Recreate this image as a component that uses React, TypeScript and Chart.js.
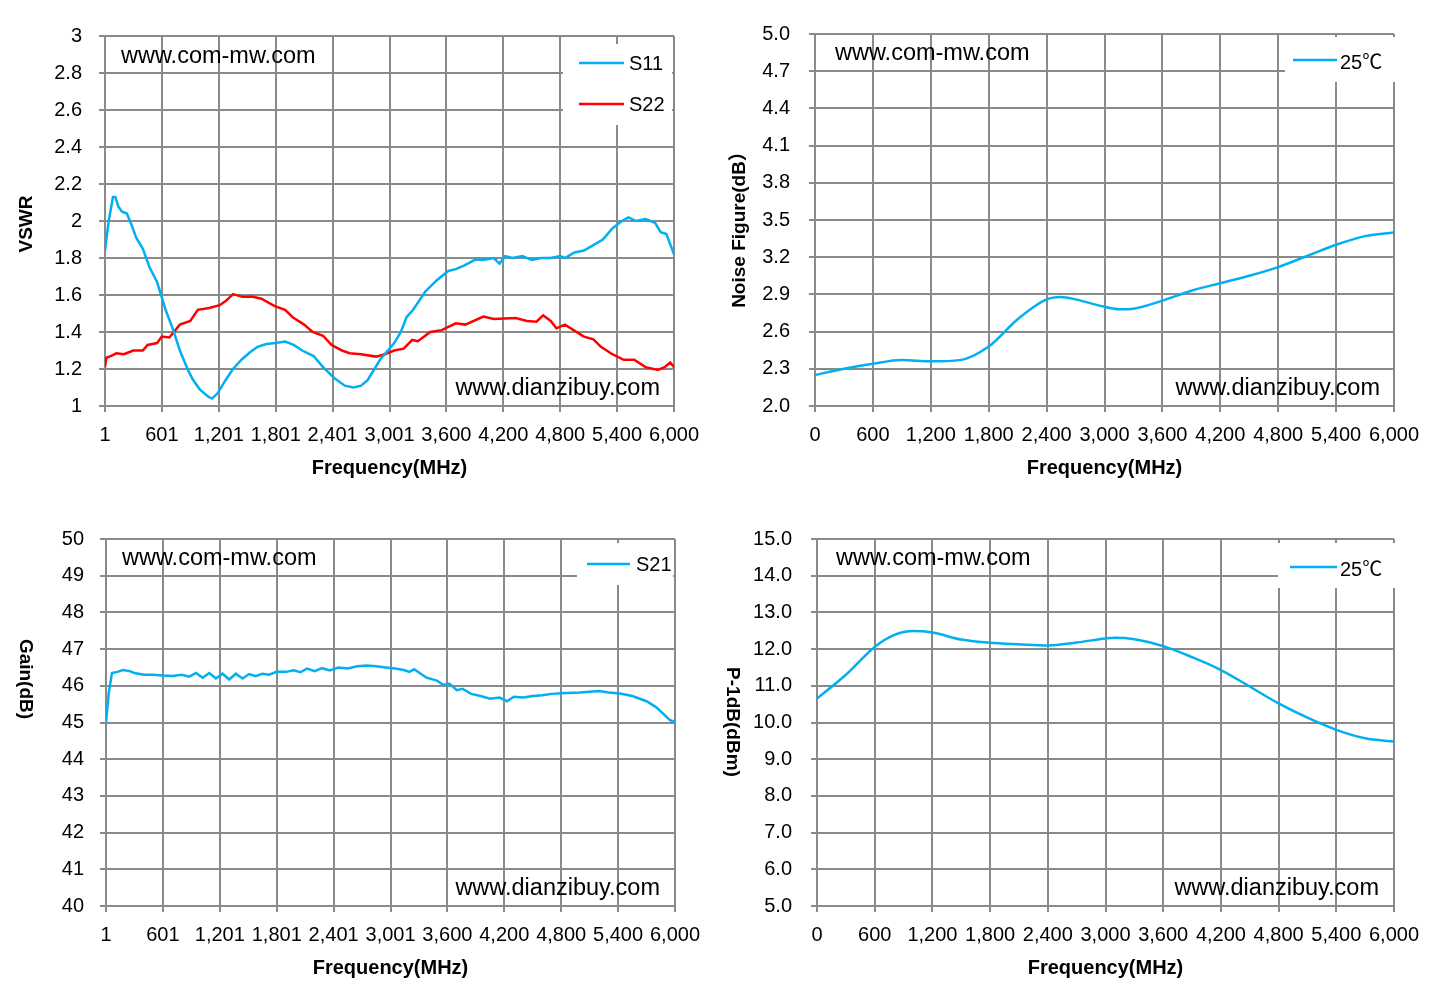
import React, { useEffect, useRef } from 'react';
import { Chart, registerables } from 'chart.js';

Chart.register(...registerables);

const FONT = '"Liberation Sans", Arial, sans-serif';
const LEGEND_FONT = '"Liberation Sans", "Noto Sans CJK SC", sans-serif';
const BLUE = '#00B0F0';
const RED = '#FF0000';
const GRID = '#8a8a8a';

// ---------- VSWR (S11 / S22) ----------
const vswrXTicks = [1, 601, 1201, 1801, 2401, 3001, 3600, 4200, 4800, 5400, 6000];
const vswrYTicks = [1, 1.2, 1.4, 1.6, 1.8, 2, 2.2, 2.4, 2.6, 2.8, 3];

const s11Freq = [1, 40, 85, 110, 140, 180, 232, 280, 330, 400, 470, 550, 640, 720, 790, 880, 930, 1000, 1090, 1130, 1190, 1260, 1350, 1440, 1530, 1610, 1700, 1800, 1900, 1990, 2080, 2200, 2300, 2420, 2530, 2620, 2700, 2770, 2900, 3050, 3120, 3180, 3250, 3380, 3500, 3620, 3700, 3790, 3900, 4000, 4100, 4160, 4220, 4300, 4400, 4500, 4600, 4700, 4800, 4850, 4950, 5050, 5150, 5250, 5350, 5450, 5520, 5600, 5700, 5800, 5860, 5920, 6000];
const s11Vals = [1.84, 2.0, 2.13, 2.13, 2.08, 2.05, 2.04, 1.98, 1.91, 1.85, 1.75, 1.67, 1.52, 1.41, 1.30, 1.19, 1.14, 1.09, 1.05, 1.04, 1.07, 1.13, 1.2, 1.25, 1.29, 1.32, 1.335, 1.34, 1.348, 1.33, 1.30, 1.27, 1.21, 1.15, 1.11, 1.10, 1.11, 1.14, 1.25, 1.34, 1.4, 1.48, 1.52, 1.62, 1.68, 1.73, 1.74, 1.76, 1.79, 1.79, 1.80, 1.77, 1.81, 1.80, 1.81, 1.79, 1.80, 1.80, 1.81, 1.80, 1.83, 1.84, 1.87, 1.90, 1.96, 2.00, 2.02, 2.00, 2.01, 1.99, 1.94, 1.93, 1.82];

const s22Freq = [1, 15, 60, 120, 200, 300, 400, 450, 550, 600, 680, 790, 900, 980, 1100, 1210, 1280, 1350, 1450, 1560, 1650, 1790, 1900, 1980, 2100, 2190, 2300, 2390, 2500, 2580, 2700, 2860, 2950, 3050, 3150, 3240, 3300, 3430, 3550, 3700, 3800, 3990, 4100, 4330, 4450, 4550, 4620, 4700, 4760, 4850, 5050, 5150, 5230, 5350, 5470, 5580, 5700, 5830, 5900, 5960, 6000];
const s22Vals = [1.21, 1.26, 1.27, 1.285, 1.28, 1.30, 1.30, 1.33, 1.34, 1.375, 1.37, 1.44, 1.46, 1.52, 1.53, 1.545, 1.57, 1.605, 1.59, 1.59, 1.58, 1.54, 1.52, 1.48, 1.44, 1.40, 1.38, 1.33, 1.30, 1.285, 1.28, 1.267, 1.28, 1.30, 1.31, 1.357, 1.35, 1.40, 1.41, 1.447, 1.44, 1.483, 1.47, 1.475, 1.46, 1.456, 1.49, 1.46, 1.42, 1.44, 1.375, 1.36, 1.32, 1.28, 1.25, 1.25, 1.21, 1.195, 1.21, 1.235, 1.21];

// ---------- Noise Figure ----------
const nfXTicks = [0, 600, 1200, 1800, 2400, 3000, 3600, 4200, 4800, 5400, 6000];
const nfYTicks = [2.0, 2.3, 2.6, 2.9, 3.2, 3.5, 3.8, 4.1, 4.4, 4.7, 5.0];
const nfFreq = [0, 300, 600, 900, 1200, 1500, 1800, 2100, 2400, 2550, 2700, 3000, 3150, 3300, 3600, 3900, 4200, 4500, 4800, 5100, 5400, 5700, 6000];
const nfVals = [2.25, 2.30, 2.34, 2.37, 2.36, 2.37, 2.48, 2.70, 2.86, 2.88, 2.86, 2.80, 2.78, 2.785, 2.85, 2.93, 2.99, 3.05, 3.12, 3.21, 3.30, 3.37, 3.40];

// ---------- Gain (S21) ----------
const gainXTicks = [1, 601, 1201, 1801, 2401, 3001, 3600, 4200, 4800, 5400, 6000];
const gainYTicks = [40, 41, 42, 43, 44, 45, 46, 47, 48, 49, 50];
const s21Freq = [1, 30, 64, 120, 180, 250, 300, 400, 500, 600, 700, 800, 880, 950, 1020, 1090, 1160, 1230, 1300, 1370, 1440, 1510, 1580, 1650, 1720, 1800, 1900, 1980, 2050, 2120, 2200, 2280, 2360, 2450, 2550, 2650, 2750, 2850, 2950, 3050, 3140, 3200, 3250, 3380, 3490, 3560, 3620, 3700, 3760, 3850, 3950, 4050, 4150, 4230, 4300, 4400, 4500, 4600, 4700, 4800, 5000, 5200, 5300, 5420, 5550, 5700, 5800, 5900, 5950, 6000];
const s21Vals = [45.0, 45.8, 46.35, 46.38, 46.43, 46.40, 46.35, 46.30, 46.30, 46.28, 46.27, 46.30, 46.25, 46.35, 46.22, 46.35, 46.20, 46.33, 46.17, 46.33, 46.20, 46.32, 46.26, 46.33, 46.30, 46.38, 46.38, 46.42, 46.37, 46.47, 46.40, 46.48, 46.42, 46.50, 46.47, 46.53, 46.55, 46.53, 46.50, 46.47, 46.43, 46.38, 46.45, 46.22, 46.14, 46.02, 46.06, 45.88, 45.92, 45.78, 45.72, 45.65, 45.68, 45.58, 45.70, 45.68, 45.72, 45.74, 45.78, 45.80, 45.82, 45.86, 45.82, 45.79, 45.72, 45.58, 45.42, 45.18, 45.06, 45.02];

// ---------- P-1dB ----------
const p1XTicks = [0, 600, 1200, 1800, 2400, 3000, 3600, 4200, 4800, 5400, 6000];
const p1YTicks = [5, 6, 7, 8, 9, 10, 11, 12, 13, 14, 15];
const p1Freq = [0, 300, 600, 800, 1000, 1200, 1500, 1800, 2100, 2400, 2700, 3000, 3100, 3300, 3600, 3900, 4200, 4500, 4800, 5100, 5400, 5700, 6000];
const p1Vals = [10.65, 11.3, 12.06, 12.38, 12.49, 12.45, 12.26, 12.17, 12.13, 12.10, 12.18, 12.29, 12.31, 12.27, 12.08, 11.78, 11.43, 10.98, 10.52, 10.13, 9.80, 9.57, 9.48];

type Series = { label: string; xs: number[]; ys: number[]; color: string; smooth: boolean };
type LegendItem = { label: string; color: string; x1: number; x2: number; y: number; tx: number; ty: number };
type Spec = {
  left: number; top: number; width: number; height: number;
  area: { left: number; top: number; right: number; bottom: number };
  xMin: number; xMax: number; xTicks: number[];
  yMin: number; yMax: number; yTicks: number[]; yFmt: (v: number) => string; yPad: number;
  series: Series[];
  yTitle: string; yTitleX: number; yTitleY: number; yTitleRot: number;
  box: { x1: number; y1: number; x2: number; y2: number };
  legend: LegendItem[];
  wm1: { dx: number; dy: number }; wm2: { dx: number; dy: number };
};

const fmtComma = (v: number) => Number(v).toLocaleString('en-US');

function makeDecor(spec: Spec) {
  return {
    id: 'decor',
    beforeDatasetsDraw(chart: any) {
      const ctx = chart.ctx as CanvasRenderingContext2D;
      const a = chart.chartArea;
      ctx.save();
      ctx.fillStyle = '#000';
      ctx.font = `23.5px ${FONT}`;
      ctx.textBaseline = 'alphabetic';
      ctx.textAlign = 'left';
      ctx.fillText('www.com-mw.com', a.left + spec.wm1.dx, a.top + spec.wm1.dy);
      ctx.textAlign = 'right';
      ctx.fillText('www.dianzibuy.com', a.right - spec.wm2.dx, a.bottom - spec.wm2.dy);
      ctx.restore();
    },
    afterDraw(chart: any) {
      const ctx = chart.ctx as CanvasRenderingContext2D;
      const a = chart.chartArea;
      ctx.save();
      const b = spec.box;
      ctx.fillStyle = '#fff';
      ctx.fillRect(b.x1, b.y1, b.x2 - b.x1, b.y2 - b.y1);
      ctx.font = `20px ${LEGEND_FONT}`;
      ctx.textBaseline = 'middle';
      ctx.textAlign = 'left';
      spec.legend.forEach((it) => {
        ctx.strokeStyle = it.color;
        ctx.lineWidth = 2.5;
        ctx.beginPath();
        ctx.moveTo(it.x1, it.y);
        ctx.lineTo(it.x2, it.y);
        ctx.stroke();
        ctx.fillStyle = '#000';
        ctx.fillText(it.label, it.tx, it.ty);
      });
      ctx.font = `bold 20px ${FONT}`;
      ctx.textAlign = 'center';
      ctx.fillStyle = '#000';
      ctx.fillText('Frequency(MHz)', (a.left + a.right) / 2, a.bottom + 62);
      ctx.font = `bold 19px ${LEGEND_FONT}`;
      ctx.translate(spec.yTitleX, spec.yTitleY);
      ctx.rotate(spec.yTitleRot);
      ctx.fillText(spec.yTitle, 0, 0);
      ctx.restore();
    },
  };
}

function buildConfig(spec: Spec): any {
  const { area, width, height } = spec;
  return {
    type: 'line',
    data: {
      datasets: spec.series.map((s) => ({
        label: s.label,
        data: s.xs.map((x, i) => ({ x, y: s.ys[i] })),
        borderColor: s.color,
        backgroundColor: s.color,
        borderWidth: 2.5,
        pointRadius: 0,
        fill: false,
        tension: 0,
        cubicInterpolationMode: s.smooth ? 'monotone' : 'default',
      })),
    },
    options: {
      responsive: false,
      animation: false,
      events: [],
      layout: { padding: { left: 0, top: area.top, right: width - area.right, bottom: 0 } },
      plugins: { legend: { display: false }, tooltip: { enabled: false } },
      scales: {
        x: {
          type: 'linear',
          min: spec.xMin,
          max: spec.xMax,
          afterBuildTicks: (s: any) => {
            s.ticks = spec.xTicks.map((v) => ({ value: v }));
          },
          afterFit: (s: any) => {
            s.height = height - area.bottom;
            s.paddingLeft = 0;
            s.paddingRight = 0;
          },
          grid: { color: GRID, lineWidth: 2, drawTicks: true, tickLength: 6, tickColor: GRID },
          border: { color: GRID, width: 2 },
          ticks: {
            font: { family: FONT, size: 20 },
            color: '#000',
            padding: 11,
            autoSkip: false,
            maxRotation: 0,
            minRotation: 0,
            callback: (v: number) => fmtComma(v),
          },
        },
        y: {
          type: 'linear',
          min: spec.yMin,
          max: spec.yMax,
          afterBuildTicks: (s: any) => {
            s.ticks = spec.yTicks.map((v) => ({ value: v }));
          },
          afterFit: (s: any) => {
            s.width = area.left;
            s.paddingTop = 0;
            s.paddingBottom = 0;
          },
          grid: { color: GRID, lineWidth: 2, drawTicks: true, tickLength: 6, tickColor: GRID },
          border: { color: GRID, width: 2 },
          ticks: {
            font: { family: FONT, size: 20 },
            color: '#000',
            padding: spec.yPad,
            autoSkip: false,
            callback: (v: number) => spec.yFmt(v),
          },
        },
      },
    },
    plugins: [makeDecor(spec)],
  };
}

const specs: Spec[] = [
  {
    left: 0, top: 0, width: 715, height: 500,
    area: { left: 105, top: 36, right: 674, bottom: 406 },
    xMin: 1, xMax: 6000, xTicks: vswrXTicks,
    yMin: 1, yMax: 3, yTicks: vswrYTicks, yFmt: (v) => String(Math.round(v * 10) / 10), yPad: 17,
    series: [
      { label: 'S11', xs: s11Freq, ys: s11Vals, color: BLUE, smooth: false },
      { label: 'S22', xs: s22Freq, ys: s22Vals, color: RED, smooth: false },
    ],
    yTitle: 'VSWR', yTitleX: 27, yTitleY: 224, yTitleRot: -Math.PI / 2,
    box: { x1: 563, y1: 44, x2: 672, y2: 125 },
    legend: [
      { label: 'S11', color: BLUE, x1: 579, x2: 624, y: 63, tx: 629, ty: 64 },
      { label: 'S22', color: RED, x1: 579, x2: 624, y: 104, tx: 629, ty: 105 },
    ],
    wm1: { dx: 16, dy: 27 }, wm2: { dx: 14, dy: 11 },
  },
  {
    left: 715, top: 0, width: 715, height: 500,
    area: { left: 100, top: 34, right: 679, bottom: 406 },
    xMin: 0, xMax: 6000, xTicks: nfXTicks,
    yMin: 2, yMax: 5, yTicks: nfYTicks, yFmt: (v) => v.toFixed(1), yPad: 19,
    series: [{ label: '25℃', xs: nfFreq, ys: nfVals, color: BLUE, smooth: true }],
    yTitle: 'Noise Figure(dB）', yTitleX: 25, yTitleY: 225, yTitleRot: -Math.PI / 2,
    box: { x1: 570, y1: 37, x2: 682, y2: 82 },
    legend: [{ label: '25℃', color: BLUE, x1: 578, x2: 622, y: 60, tx: 625, ty: 63 }],
    wm1: { dx: 20, dy: 26 }, wm2: { dx: 14, dy: 11 },
  },
  {
    left: 0, top: 500, width: 715, height: 507,
    area: { left: 106, top: 39, right: 675, bottom: 406 },
    xMin: 1, xMax: 6000, xTicks: gainXTicks,
    yMin: 40, yMax: 50, yTicks: gainYTicks, yFmt: (v) => String(Math.round(v)), yPad: 16,
    series: [{ label: 'S21', xs: s21Freq, ys: s21Vals, color: BLUE, smooth: false }],
    yTitle: 'Gain(dB)', yTitleX: 25, yTitleY: 179, yTitleRot: Math.PI / 2,
    box: { x1: 577, y1: 43, x2: 673, y2: 85 },
    legend: [{ label: 'S21', color: BLUE, x1: 587, x2: 630, y: 64, tx: 636, ty: 65 }],
    wm1: { dx: 16, dy: 26 }, wm2: { dx: 15, dy: 11 },
  },
  {
    left: 715, top: 500, width: 715, height: 507,
    area: { left: 102, top: 39, right: 679, bottom: 406 },
    xMin: 0, xMax: 6000, xTicks: p1XTicks,
    yMin: 5, yMax: 15, yTicks: p1YTicks, yFmt: (v) => v.toFixed(1), yPad: 19,
    series: [{ label: '25℃', xs: p1Freq, ys: p1Vals, color: BLUE, smooth: true }],
    yTitle: 'P-1dB(dBm)', yTitleX: 17, yTitleY: 222, yTitleRot: Math.PI / 2,
    box: { x1: 563, y1: 43, x2: 682, y2: 88 },
    legend: [{ label: '25℃', color: BLUE, x1: 575, x2: 622, y: 67, tx: 625, ty: 70 }],
    wm1: { dx: 19, dy: 26 }, wm2: { dx: 15, dy: 11 },
  },
];

function ChartPanel({ spec }: { spec: Spec }) {
  const ref = useRef<HTMLCanvasElement>(null);
  useEffect(() => {
    const chart = new Chart(ref.current as HTMLCanvasElement, buildConfig(spec));
    return () => chart.destroy();
  }, [spec]);
  return (
    <canvas
      ref={ref}
      width={spec.width}
      height={spec.height}
      style={{ position: 'absolute', left: spec.left, top: spec.top, width: spec.width, height: spec.height, display: 'block' }}
    />
  );
}

export default function App() {
  return (
    <div style={{ position: 'absolute', left: 0, top: 0, width: 1430, height: 1007, background: '#fff', overflow: 'hidden' }}>
      {specs.map((s, i) => (
        <ChartPanel key={i} spec={s} />
      ))}
    </div>
  );
}
